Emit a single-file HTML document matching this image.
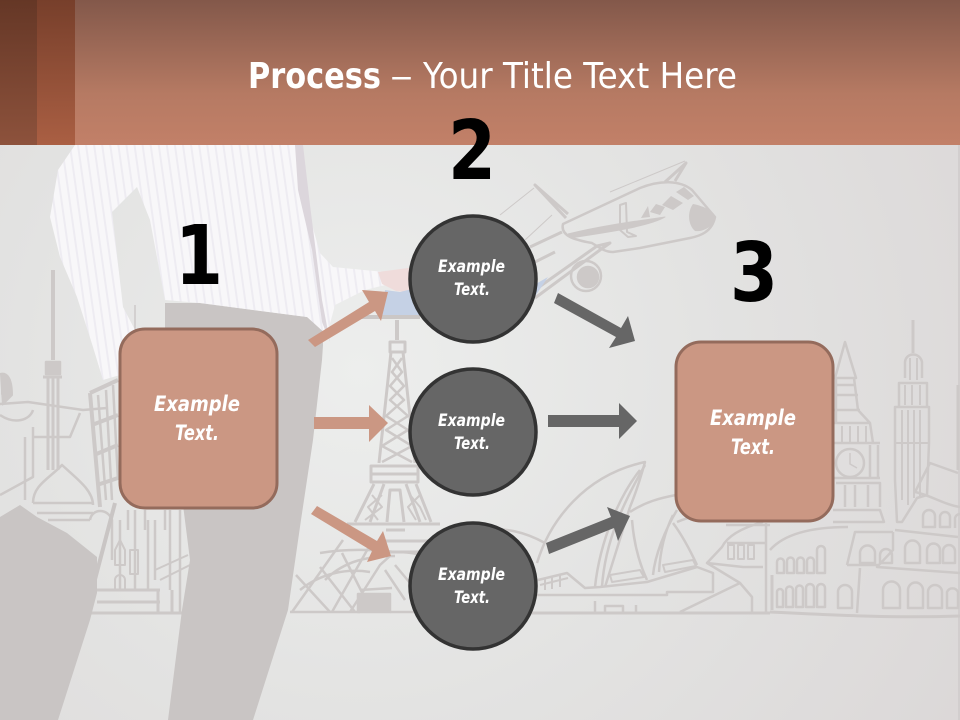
<!DOCTYPE html>
<html><head><meta charset="utf-8"><style>html,body{margin:0;padding:0;background:#e4e4e3}svg{display:block}</style></head><body>
<svg xmlns="http://www.w3.org/2000/svg" width="960" height="720" viewBox="0 0 960 720">
<defs>
<radialGradient id="bg" gradientUnits="userSpaceOnUse" cx="360" cy="370" r="760"><stop offset="0" stop-color="#edeeed"/><stop offset=".45" stop-color="#e3e3e2"/><stop offset="1" stop-color="#dad6d6"/></radialGradient>
<linearGradient id="hd" x1="0" y1="0" x2="0" y2="1"><stop offset="0" stop-color="#83584a"/><stop offset=".65" stop-color="#b67a63"/><stop offset="1" stop-color="#c28068"/></linearGradient>
<linearGradient id="s1" x1="0" y1="0" x2="0" y2="1"><stop offset="0" stop-color="#653726"/><stop offset="1" stop-color="#8d523c"/></linearGradient>
<linearGradient id="s2" x1="0" y1="0" x2="0" y2="1"><stop offset="0" stop-color="#773f2b"/><stop offset="1" stop-color="#aa5f43"/></linearGradient>
<pattern id="stripe" width="8" height="8" patternUnits="userSpaceOnUse" patternTransform="rotate(-8)"><rect width="8" height="8" fill="#f8f7f9"/><rect width="2" height="8" fill="#eeecf2"/></pattern>
</defs>
<rect width="960" height="720" fill="url(#bg)"/>
<rect x="958" y="145" width="2" height="575" fill="#d2cece"/>

<!-- skyline -->
<g fill="none" stroke="#cdc9c8" stroke-width="2.5" stroke-linejoin="round">
<!-- plane -->
<path d="M563 224 L640 188 C660 180 680 180 692 190 L715 217 C712 232 700 236 690 238 L640 248 L613 252 C605 252 600 248 592 243 C575 240 560 236 563 224Z"/>
<path d="M568 234 C600 226 630 222 665 217 C650 226 610 232 570 238" fill="#cdc9c8" stroke-width="1"/>
<path d="M620 205 L626 203 L627 232 L636 236 L628 237 L620 230Z" stroke-width="2"/>
<path d="M566 218 L535 185 L568 214M665 182 L686 163 L675 181" stroke-width="3"/>
<path d="M610 192 L685 161M500 215 L534 188M525 240 L552 215" stroke-width="1"/>
<path d="M530 247 L562 232 M535 262 L555 252 M532 292 L597 246 L610 243 L600 250 L535 298" stroke-width="3"/>
<circle cx="588" cy="277" r="10" fill="#cdc9c8" stroke="#cdc9c8"/><circle cx="586" cy="276" r="15" stroke-width="2.5"/>
<path d="M641 218 l7-12 l2 11z M650 212 l6-8 l9 3 l-5 8z M662 205 l9-9 l12 7 l-10 7z M676 192 l8-5 l10 9 l-6 4z" fill="#cdc9c8" stroke="none"/>
<path d="M693 204 C704 206 716 212 715 218 C712 228 702 232 695 231 C688 225 687 212 693 204Z" fill="#cdc9c8" stroke="none"/>
<!-- eiffel -->
<path d="M397 320 V340" stroke-width="4"/>
<path d="M390 342 h15 v10 h-15z" stroke-width="3"/>
<path d="M391 352 L379 463 M403 352 L415 463" stroke-width="3"/>
<path d="M392 358 L402 372 L390 386 L404 400 L386 416 L408 430 L382 446 L412 462 M402 358 L392 372 L404 386 L390 400 L408 416 L386 430 L412 446 L382 462" stroke-width="2.5"/>
<path d="M371 466 H418 V482 H371Z M371 474 H418" stroke-width="3"/>
<path d="M374 484 L355 522 M416 484 L431 522 M387 522 L390 490 H400 L404 522 M384 484 L370 522 M406 484 L420 522" stroke-width="3"/>
<path d="M372 495 L382 507 L365 520 M382 495 L368 507 L378 520 M410 495 L420 507 L426 520 M420 495 L408 507 L416 520" stroke-width="2"/>
<path d="M347 524 H440 M386 530 H405 M385 541 H430 M388 552 H425" stroke-width="3"/>
<path d="M320 553 C350 548 375 550 395 552 C412 552 425 555 432 560"/>
<path d="M343 540 L292 612 M370 545 L332 612 M390 556 L380 565 L350 612 M342 553 L372 612 M320 567 L355 612 M296 575 L330 612 M395 565 L420 595 M325 580 C345 560 370 556 395 556 M300 590 C320 574 345 568 370 572 M385 570 L405 600"/>
<rect x="358" y="594" width="32" height="18" fill="#cdc9c8"/>
<path d="M360 590 L392 588 M290 612 H360 M390 612 H470"/>
<!-- opera -->
<path d="M537 563 C550 520 585 475 645 462 C640 480 635 495 630 507"/>
<path d="M640 470 C620 495 600 540 595 587 M645 465 C625 500 605 540 602 587 M630 507 L605 587"/>
<path d="M630 512 C645 502 660 498 676 495 M632 520 C634 545 640 565 647 580 M677 510 C665 530 655 555 653 575 M673 515 C663 535 660 555 659 572 M673 523 C682 535 690 550 697 565 M677 522 C700 512 725 512 745 515"/>
<path d="M480 530 C505 527 525 532 545 543"/>
<path d="M537 595 H667 V592 H713 V573 L697 567 L647 582 L600 587 L585 588 L567 573 L538 580" />
<path d="M540 585 l28-7 M545 578 v12 M552 577 v12 M560 575 v12 M610 575 L640 570 L644 577 L612 582Z M663 565 L693 560 L696 566 L665 572Z" stroke-width="2"/>
<path d="M530 613 H770" stroke-width="3"/>
<path d="M595 613 v-12 M605 613 h18 v-7 h-18z M636 613 v-8" stroke-width="2.5"/>
<path d="M680 612 L740 583 L707 563 L743 567 L763 567 M740 583 L752 597 V613 H770"/>
<path d="M707 563 L722 547 C728 535 745 527 763 522 M727 543 H765 M726 525 H770"/>
<path d="M728 545 h6 v14 h-6z M738 545 h6 v14 h-6z M748 545 h6 v14 h-6z" stroke-width="2"/>
<path d="M766 523 V612 M770 550 C785 533 815 527 848 527" />
<path d="M777 573 V562 a3 3 0 0 1 7 0 V573z M787 573 V561 a3 3 0 0 1 7 0 V573z M797 573 V561 a3 3 0 0 1 7 0 V573z M807 573 V561 a3 3 0 0 1 7 0 V573z M817 573 V550 a4 4 0 0 1 8 0 V573z M777 607 V592 a3 3 0 0 1 6 0 V607z M786 607 V590 a3 3 0 0 1 7 0 V607z M796 607 V589 a3 3 0 0 1 7 0 V607z M806 607 V588 a4 4 0 0 1 8 0 V607z M817 607 V588 a4 4 0 0 1 8 0 V607z" stroke-width="2.5"/>
<path d="M772 575 V610 M770 612 C850 616 900 618 960 616" stroke-width="3"/>
<!-- big ben -->
<path d="M845 342 L835 378 H856Z M836 378 V423 M854 378 L858 410 L870 423 L873 443 M835 385 H856 M835 395 H858 M833 410 H860 M833 423 H870 M833 443 H880 M870 445 V478 M878 445 V478 M833 478 H880 M836 483 H880 V507 M845 485 V507 M855 485 V507 M868 485 V507 M833 510 H880 L884 522 H833" />
<circle cx="850" cy="463" r="14"/><path d="M850 453 V464 L857 468" stroke-width="1.5"/>
<path d="M842 426 V442 M850 426 V442 M858 426 V442 M866 426 V442" stroke-width="2"/>
<!-- skyscraper -->
<path d="M913 320 V353" stroke-width="3"/>
<path d="M905 378 V362 C906 352 920 352 922 362 V378 M899 407 V383 H927 V407 M895 443 V407 H929 V443 L927 495 L917 498 L902 522 H897 L895 480Z"/>
<path d="M910 358 V380 M917 358 V380 M905 385 V405 M912 385 V405 M920 385 V405 M902 410 V500 M908 410 V505 M914 410 V498 M920 410 V498 M896 443 H928" stroke-width="2"/>
<path d="M958 385 V470" stroke-width="3"/>
<!-- colosseum -->
<path d="M915 492 L930 463 L958 473 M915 492 C930 495 945 505 960 507"/>
<path d="M923 527 V516 a6 6 0 0 1 12 0 V527z M940 527 V517 a5 5 0 0 1 10 0 V527z M955 528 V518 a5 5 0 0 1 5 -4"/>
<path d="M895 530 L958 537 M893 532 H855 L847 565 M893 532 V550 L877 567 L960 573"/>
<path d="M905 563 V548 a7 7 0 0 1 15 0 V563z M927 563 V550 a6 6 0 0 1 13 0 V563z M943 563 V551 a6 6 0 0 1 12 0 V563z"/>
<path d="M860 563 V553 a7 7 0 0 1 15 0 V563z M880 563 V555 a6 6 0 0 1 12 0 V563z"/>
<path d="M847 565 H878 M860 568 L857 613"/>
<path d="M883 608 V590 a8 8 0 0 1 17 0 V608z M908 608 V590 a7 7 0 0 1 15 0 V608z M928 608 V592 a7 7 0 0 1 14 0 V608z M947 608 V592 a6 6 0 0 1 11 0 V608z M838 608 V592 a7 7 0 0 1 14 0 V608z"/>
<!-- left landmarks -->
<path d="M53 270 V360" stroke-width="4"/><path d="M135 305 V345" stroke-width="1.5"/>
<path d="M46 362 H60 V374 H46Z" fill="#cdc9c8"/>
<path d="M43 377 H62 M48 378 V470 M53 378 V470 M58 378 V470" stroke-width="3"/>
<path d="M0 374 C8 372 12 380 12 395 L2 405 M2 380 h8 v14 h-8z" fill="#cdc9c8" stroke-width="2"/>
<path d="M0 404 L28 402 L83 410 L107 408 M80 413 L70 437 L33 437 M33 427 V477 L0 495 M25 437 V500 M0 415 C15 425 30 420 33 410"/>
<path d="M90 393 L118 380 M92 425 L118 415 M94 455 L118 445 M97 485 L118 478 M90 393 L100 507" stroke-width="4"/>
<path d="M98 395 L106 500 M106 390 L112 500 M113 385 L118 480" stroke-width="2.5"/>
<path d="M33 503 C33 485 50 478 62 465 C76 478 93 490 93 505 M33 503 H93 M37 513 H93 M48 520 H90"/>
<path d="M90 520 C92 508 108 508 112 520 V560 M135 510 V590 M128 510 V530 M145 510 V530 M148 520 V590 M165 510 V530 M170 510 V590 M180 510 V612 M120 520 V590 M155 520 V580" />
<path d="M115 550 L120 540 L125 550 V565 H115Z M130 550 h8 v24 h-8z M115 580 a5 5 0 0 1 10 0 V590 H115z" stroke-width="2"/>
<path d="M155 570 L188 555 M160 580 L190 565" stroke-width="2"/>
<path d="M92 590 H160 M97 602 H160 M88 613 H185 M158 590 V613 M172 590 V613" stroke-width="3"/>
<path d="M115 503 L93 587" stroke-width="4" stroke="#c9c5c4"/>
</g>

<!-- person -->
<g>
<path d="M0 517 L20 505 L37 517 L67 533 L97 557 L97 593 L90 620 L58 720 H0Z" fill="#c9c5c4"/>
<path d="M165 303 L200 303 L307 317 L322 320 L323 345 L322 360 L313 440 L301 520 L288 610 L253 720 H168 L182 610 L190 560 L183 505 L170 400 L165 340Z" fill="#c9c5c4"/>
<path d="M75 145 L58 170 L50 217 L60 257 L77 297 L93 347 L103 380 L120 375 L135 330 L123 307 L112 212 L137 187 L150 220 L165 300 L200 303 L307 317 L327 335 L335 305 L365 290 L385 285 L385 272 L333 267 L320 253 L307 207 L300 145Z" fill="url(#stripe)"/>
<path d="M295 145 L303 145 L310 205 L322 300 L330 342 L322 322 L312 250 L298 190Z" fill="#dcd6dc"/>
<path d="M378 272 L408 268 L420 268 L420 293 L396 291 L382 284Z" fill="#efdcdb"/>
<path d="M385 290 L400 292 L420 287 L420 315 L382 315Z" fill="#c5d1e5"/>
<path d="M360 315 H420 V319 H360Z" fill="#cbc7c6"/>
<path d="M534 285 L548 277 L534 298Z" fill="#c5d1e5"/>
</g>

<!-- header -->
<rect width="960" height="145" fill="url(#hd)"/>
<rect width="37" height="145" fill="url(#s1)"/>
<rect x="37" width="38" height="145" fill="url(#s2)"/>

<!-- title -->
<g font-family="'DejaVu Sans','Liberation Sans',sans-serif" fill="#fff">
<text x="248" y="88" font-size="36" font-weight="700" textLength="133" lengthAdjust="spacingAndGlyphs">Process</text>
<text x="390" y="88" font-size="36" textLength="23" lengthAdjust="spacingAndGlyphs">–</text>
<text x="423" y="88" font-size="36" textLength="314" lengthAdjust="spacingAndGlyphs">Your Title Text Here</text>
</g>

<!-- numbers -->
<g font-family="'DejaVu Sans',sans-serif" font-weight="700" font-size="82" fill="#000">
<text x="175" y="284" textLength="48" lengthAdjust="spacingAndGlyphs">1</text>
<text x="448" y="179" textLength="48" lengthAdjust="spacingAndGlyphs">2</text>
<text x="730" y="301" textLength="48" lengthAdjust="spacingAndGlyphs">3</text>
</g>

<!-- shapes -->
<rect x="120" y="329" width="157" height="179" rx="25" fill="#cb9783" stroke="#946b5c" stroke-width="3"/>
<rect x="676" y="342" width="157" height="179" rx="25" fill="#cb9783" stroke="#946b5c" stroke-width="3"/>
<g fill="#666" stroke="#333" stroke-width="3.5">
<circle cx="473" cy="279" r="63"/>
<circle cx="473" cy="432" r="63"/>
<circle cx="473" cy="586" r="63"/>
</g>

<!-- arrows -->
<g fill="#cb9783">
<polygon points="308,340 369,302 362,290 388,292 381,321 375,311 315,347"/>
<polygon points="314,417 369,417 369,405 388,423 369,442 369,429 314,429"/>
<polygon points="317,506 377,541 383,531 391,556 367,562 372,551 311,514"/>
</g>
<g fill="#666">
<polygon points="558,293 621,328 628,316 635,341 609,348 616,337 554,303"/>
<polygon points="548,415 619,415 619,403 637,421 619,439 619,427 548,427"/>
<polygon points="546,543 611,517 607,507 630,516 618,541 614,528 549,554"/>
</g>

<!-- labels -->
<g font-family="'DejaVu Sans','Liberation Sans',sans-serif" font-weight="700" font-style="italic" fill="#fff">
<text x="154" y="411" font-size="21" textLength="86" lengthAdjust="spacingAndGlyphs">Example</text>
<text x="175" y="440" font-size="21" textLength="44" lengthAdjust="spacingAndGlyphs">Text.</text>
<text x="710" y="425" font-size="21" textLength="86" lengthAdjust="spacingAndGlyphs">Example</text>
<text x="731" y="454" font-size="21" textLength="44" lengthAdjust="spacingAndGlyphs">Text.</text>
<text x="438" y="272" font-size="16.5" textLength="67" lengthAdjust="spacingAndGlyphs">Example</text>
<text x="454" y="295" font-size="16.5" textLength="36" lengthAdjust="spacingAndGlyphs">Text.</text>
<text x="438" y="426" font-size="16.5" textLength="67" lengthAdjust="spacingAndGlyphs">Example</text>
<text x="454" y="449" font-size="16.5" textLength="36" lengthAdjust="spacingAndGlyphs">Text.</text>
<text x="438" y="580" font-size="16.5" textLength="67" lengthAdjust="spacingAndGlyphs">Example</text>
<text x="454" y="603" font-size="16.5" textLength="36" lengthAdjust="spacingAndGlyphs">Text.</text>
</g>
</svg>
</body></html>
